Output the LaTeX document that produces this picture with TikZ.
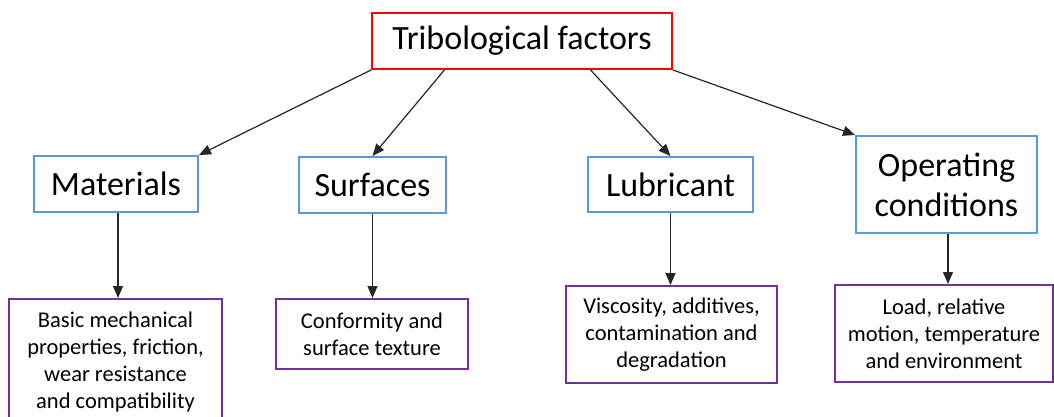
\documentclass[tikz,border=0pt]{standalone}
\usepackage{fontspec}
\setmainfont{Carlito}
\usetikzlibrary{arrows.meta,calc}
\definecolor{topred}{HTML}{FF0000}
\definecolor{catblue}{HTML}{5B9BD5}
\definecolor{detpurple}{HTML}{7030A0}
\tikzset{
  x=1pt, y=-1pt,
  box/.style={draw, line width=2pt, align=center, inner sep=0pt, text=black},
  headbox/.style={box, draw=topred, font=\fontsize{34}{40}\selectfont},
  catbox/.style={box, draw=catblue, font=\fontsize{34}{40}\selectfont},
  detbox/.style={box, draw=detpurple, font=\fontsize{22.5}{27}\selectfont},
  arr/.style={draw=black!85, line width=1.2pt, -{Triangle[length=12pt,width=10pt]}}
}
\begin{document}
\begin{tikzpicture}
\useasboundingbox (0,0) rectangle (1054,417);
\clip (0,0) rectangle (1054,417);
\fill[white] (0,0) rectangle (1054,417);

% top node
\node[headbox, minimum width=300pt, minimum height=56pt] (top) at (522,41) {Tribological factors};

% categories
\node[catbox, minimum width=164pt, minimum height=56pt] (mat) at (116,184) {Materials};
\node[catbox, minimum width=147pt, minimum height=56pt] (sur) at (372.5,185) {Surfaces};
\node[catbox, minimum width=165pt, minimum height=55pt] (lub) at (670.5,184.5) {Lubricant};
\node[catbox, minimum width=181pt, minimum height=97pt] (op) at (946.5,184.5) {Operating\\conditions};

% details
\node[detbox, minimum width=213pt, minimum height=126pt] (matd) at (115.5,362) {Basic mechanical\\properties, friction,\\wear resistance\\and compatibility};
\node[detbox, minimum width=192pt, minimum height=70pt] (surd) at (372,334) {Conformity and\\surface texture};
\node[detbox, minimum width=211pt, minimum height=97pt] (lubd) at (671.5,334.5) {Viscosity, additives,\\contamination and\\degradation};
\node[detbox, minimum width=218pt, minimum height=97pt] (opd) at (944,333.5) {Load, relative\\motion, temperature\\and environment};

% connectors from the top node
\coordinate (ts) at ($(top.south west)!0.243!(top.south east)$);
\coordinate (tl) at ($(top.south west)!0.727!(top.south east)$);
\draw[arr] (top.south west) -- (mat.north east);
\draw[arr] (ts) -- (sur.north);
\draw[arr] (tl) -- (lub.north);
\draw[arr] (top.south east) -- (op.north west);

% connectors down to the details
\draw[arr] ([xshift=2pt]mat.south) -- ([xshift=2pt]mat.south |- matd.north);
\draw[arr] (sur.south) -- (sur.south |- surd.north);
\draw[arr] (lub.south) -- (lub.south |- lubd.north);
\draw[arr] ([xshift=1.5pt]op.south) -- ([xshift=1.5pt]op.south |- opd.north);
\end{tikzpicture}
\end{document}
